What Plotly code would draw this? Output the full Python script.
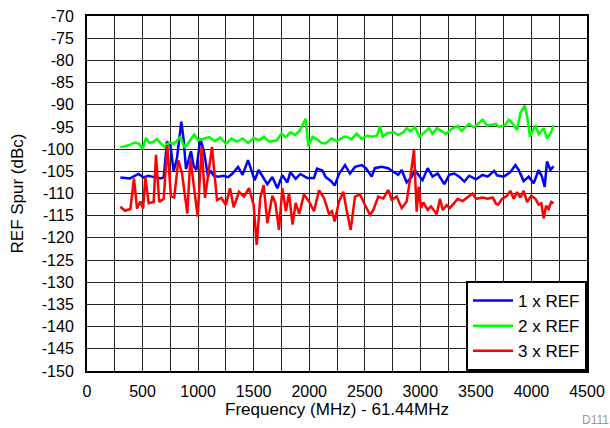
import plotly.graph_objects as go

# ---- data ----
green_f = [300, 340, 390, 430, 470, 500, 530, 560, 600, 630, 660, 700, 740, 780, 840, 880, 920, 965,
           1000, 1050, 1100, 1150, 1200, 1250, 1300, 1350, 1400, 1450, 1500, 1550, 1593, 1640, 1710,
           1750, 1790, 1830, 1870, 1910, 1968, 1992, 2030, 2070, 2110, 2148, 2200, 2250, 2313, 2337,
           2380, 2427, 2470, 2520, 2574, 2610, 2637, 2660, 2700, 2760, 2800, 2847, 2877, 2910, 2952,
           2991, 3030, 3078, 3110, 3150, 3231, 3290, 3340, 3370, 3438, 3480, 3561, 3600, 3681, 3705,
           3760, 3795, 3830, 3870, 3900, 3939, 3960, 3987, 4035, 4065, 4110, 4140, 4179, 4200]
green_v = [-99.6, -99.3, -99.0, -98.5, -98.8, -100.0, -97.5, -98.6, -98.3, -97.7, -98.6, -99.5, -98.5,
           -98.8, -97.3, -99.7, -98.2, -96.7, -98.0, -97.6, -97.3, -98.2, -97.4, -98.8, -97.6, -98.3,
           -97.6, -98.6, -97.5, -98.0, -97.2, -98.3, -98.0, -96.5, -97.3, -96.2, -96.8, -96.0, -93.2,
           -99.4, -97.2, -97.8, -98.6, -98.7, -97.6, -98.2, -97.2, -97.2, -97.8, -96.5, -97.7, -97.0,
           -97.2, -96.9, -94.9, -97.2, -96.4, -96.2, -96.8, -96.2, -95.3, -96.0, -95.1, -97.2, -96.3,
           -95.3, -96.5, -95.3, -96.6, -95.3, -94.8, -95.9, -94.3, -95.1, -93.4, -94.7, -94.3, -95.0,
           -94.6, -93.4, -94.2, -95.7, -91.9, -90.2, -92.5, -97.2, -94.6, -96.6, -95.3, -97.6, -96.1,
           -94.6]

blue_f = [300, 340, 387, 430, 465, 510, 550, 585, 620, 660, 690, 720, 750, 780, 810, 849, 870, 891,
          936, 960, 984, 1020, 1053, 1089, 1110, 1140, 1180, 1230, 1270, 1310, 1359, 1400, 1449, 1509,
          1545, 1590, 1623, 1668, 1713, 1758, 1803, 1830, 1878, 1920, 1983, 2043, 2070, 2118, 2148,
          2193, 2229, 2268, 2300, 2322, 2367, 2412, 2472, 2510, 2562, 2590, 2652, 2710, 2757, 2800,
          2832, 2877, 2922, 2950, 2997, 3020, 3066, 3110, 3156, 3216, 3260, 3306, 3350, 3396, 3440,
          3501, 3560, 3606, 3665, 3690, 3750, 3810, 3855, 3885, 3930, 3975, 4020, 4065, 4095, 4119,
          4140, 4170, 4200]
blue_v = [-106.4, -106.5, -106.6, -106.0, -105.6, -106.4, -106.0, -106.2, -106.4, -106.6, -106.4,
          -98.3, -99.0, -105.0, -102.0, -93.8, -98.0, -104.5, -100.5, -103.8, -104.7, -97.6, -100.6,
          -106.2, -104.8, -106.0, -106.2, -106.0, -106.3, -105.5, -104.0, -105.8, -102.5, -107.0,
          -104.7, -106.5, -107.9, -106.3, -108.8, -105.9, -107.5, -105.2, -106.7, -105.6, -106.5,
          -106.5, -104.4, -104.8, -106.3, -107.1, -108.2, -105.6, -104.4, -103.6, -105.5, -104.0,
          -103.6, -104.3, -106.2, -104.3, -104.0, -104.3, -105.1, -105.8, -104.7, -107.5, -106.3,
          -104.7, -106.3, -107.0, -104.3, -106.2, -105.5, -107.9, -105.8, -105.5, -106.2, -107.3,
          -106.0, -106.8, -105.8, -106.2, -104.9, -105.9, -106.2, -105.2, -103.6, -104.7, -107.2,
          -106.2, -107.7, -104.7, -106.2, -108.5, -102.8, -104.7, -103.9]

red_f = [300, 342, 390, 423, 450, 480, 505, 525, 555, 600, 621, 650, 690, 723, 755, 785, 822, 855,
         903, 930, 996, 1032, 1062, 1125, 1170, 1210, 1250, 1287, 1320, 1368, 1413, 1458, 1500, 1527,
         1560, 1590, 1623, 1668, 1695, 1728, 1758, 1790, 1818, 1850, 1878, 1910, 1953, 1998, 2043,
         2088, 2133, 2178, 2205, 2229, 2268, 2307, 2337, 2373, 2412, 2457, 2502, 2547, 2575, 2622,
         2667, 2712, 2742, 2787, 2832, 2877, 2907, 2943, 2967, 2985, 3006, 3027, 3066, 3096, 3120,
         3147, 3177, 3201, 3237, 3264, 3300, 3336, 3380, 3426, 3470, 3501, 3561, 3606, 3651, 3681,
         3700, 3735, 3780, 3810, 3840, 3870, 3900, 3930, 3960, 3999, 4035, 4065, 4089, 4110, 4131,
         4155, 4179, 4200]
red_v = [-113.0, -113.9, -113.5, -106.6, -113.4, -111.8, -113.4, -106.3, -112.2, -111.9, -101.3,
         -111.9, -111.2, -99.1, -110.6, -110.9, -102.5, -105.5, -114.5, -102.0, -115.2, -99.5,
         -111.0, -99.5, -111.5, -111.0, -112.6, -108.8, -113.1, -109.6, -110.7, -108.8, -112.6,
         -121.6, -110.9, -108.1, -116.7, -110.5, -112.1, -118.2, -108.8, -114.0, -109.9, -117.0,
         -112.1, -114.6, -110.2, -111.8, -114.0, -109.3, -111.0, -114.6, -114.0, -116.3, -111.8,
         -109.6, -113.8, -118.2, -110.7, -110.2, -112.6, -114.8, -113.8, -110.7, -111.1, -109.2,
         -111.4, -110.7, -113.3, -111.8, -106.9, -100.2, -114.1, -108.5, -113.3, -112.0, -113.7,
         -112.9, -113.7, -114.7, -111.2, -113.7, -112.6, -113.3, -112.3, -111.2, -111.7, -110.9,
         -110.0, -111.2, -110.9, -111.2, -110.9, -112.3, -112.5, -111.2, -110.5, -109.4, -111.2,
         -109.7, -110.9, -109.4, -111.9, -110.5, -111.2, -112.5, -112.2, -115.6, -112.8, -113.5,
         -111.9, -112.2]

series_names = ["1 x REF", "2 x REF", "3 x REF"]
series_colors = ["#0000FF", "#00FF00", "#FF0000"]

x_tick_vals = [0, 500, 1000, 1500, 2000, 2500, 3000, 3500, 4000, 4500]
x_tick_text = ["0", "500", "1000", "1500", "2000", "2500", "3000", "3500", "4000", "4500"]
y_tick_vals = [-70, -75, -80, -85, -90, -95, -100, -105, -110, -115, -120, -125, -130, -135,
               -140, -145, -150]
y_tick_text = ["-70", "-75", "-80", "-85", "-90", "-95", "-100", "-105", "-110", "-115", "-120",
               "-125", "-130", "-135", "-140", "-145", "-150"]

x_title = "Frequency (MHz) - 61.44MHz"
y_title = "REF Spur (dBc)"
note_text = "D111"

FONT = "Liberation Sans, Arial, sans-serif"

fig = go.Figure()
for name, color, fx, fy in zip(series_names, series_colors,
                               [blue_f, green_f, red_f], [blue_v, green_v, red_v]):
    fig.add_trace(go.Scatter(x=fx, y=fy, mode="lines", name=name,
                             line=dict(color=color, width=2.5)))

axis_common = dict(showline=True, linecolor="black", linewidth=2, mirror=True,
                   showgrid=True, gridcolor="#222222", gridwidth=1, zeroline=False,
                   automargin=False, ticks="",
                   tickfont=dict(family=FONT, size=16, color="black"))

fig.update_xaxes(range=[0, 4500], tickvals=x_tick_vals, ticktext=x_tick_text,
                 ticklabelstandoff=5,
                 minor=dict(dtick=250, tick0=0, showgrid=True, gridcolor="#222222", gridwidth=1),
                 title=dict(text=x_title, font=dict(family=FONT, size=17, color="black"),
                            standoff=2),
                 **axis_common)
fig.update_yaxes(range=[-150, -70], tickvals=y_tick_vals, ticktext=y_tick_text,
                 ticklabelstandoff=8,
                 title=dict(text=y_title, font=dict(family=FONT, size=17, color="black"),
                            standoff=14),
                 **axis_common)

fig.update_layout(
    width=610, height=428,
    margin=dict(l=87, r=23, t=16, b=57),
    paper_bgcolor="white", plot_bgcolor="white",
    font=dict(family=FONT, size=16, color="black"),
    showlegend=True,
    legend=dict(x=1, y=0, xanchor="right", yanchor="bottom",
                bgcolor="white", bordercolor="black", borderwidth=2,
                font=dict(family=FONT, size=17, color="black"),
                itemwidth=40, tracegroupgap=0),
    annotations=[dict(text=note_text, xref="paper", yref="paper", x=0.985, y=-0.138,
                      xanchor="left", yanchor="middle", showarrow=False,
                      font=dict(family=FONT, size=12, color="#999999"))],
)

fig.write_html("out.html", config={"displayModeBar": False},
               post_script="document.body.style.margin='0';document.body.style.overflow='hidden';")
